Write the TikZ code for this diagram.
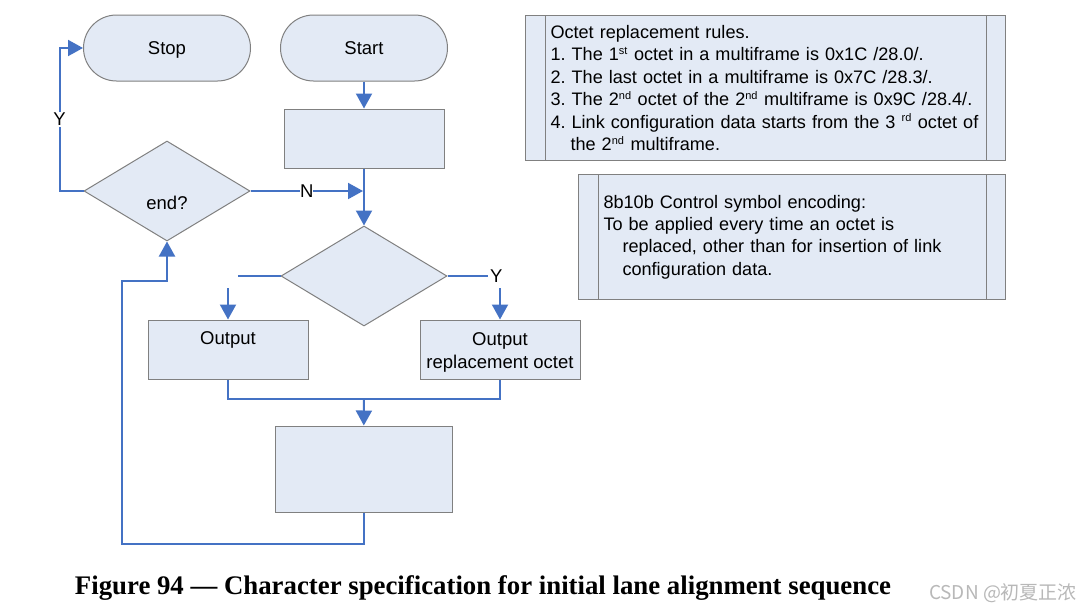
\documentclass[tikz,border=0pt]{standalone}
\usepackage{fontspec}
\setmainfont{Liberation Sans}
\newfontfamily\capfont{Liberation Serif}
\newfontfamily\cjkfont{Noto Sans CJK SC}
\usepackage{tikz}
\usetikzlibrary{positioning, arrows.meta, shapes.geometric}
\frenchspacing

\definecolor{boxfill}{RGB}{227,234,245}
\definecolor{flowblue}{RGB}{68,114,196}
\definecolor{edgegray}{RGB}{128,128,128}

\tikzset{
  terminal/.style={draw=edgegray, fill=boxfill, line width=1pt, rounded corners=33pt, minimum width=167pt, minimum height=66pt, text height=13.2pt, text depth=0pt},
  procbox/.style={draw=edgegray, fill=boxfill, line width=1pt, minimum width=160pt, minimum height=59pt, align=center, inner sep=2pt, text height=41pt},
  decision/.style={draw=edgegray, fill=boxfill, line width=1pt, diamond, minimum width=166pt, minimum height=100pt, inner sep=0pt},
  notebox/.style={draw=edgegray, fill=boxfill, line width=1pt, align=left, inner xsep=25pt, inner ysep=0pt, anchor=north west, font=\fontsize{18.1}{22.4}\selectfont},
  flow/.style={flowblue, line width=2pt},
  arr/.style={flow, -{Triangle[length=15pt,width=16pt]}},
  lbl/.style={fill=white, text=black, inner sep=1pt}
}
\newcommand{\sups}[1]{\textsuperscript{\fontsize{11}{11}\selectfont #1}}

\begin{document}
\begin{tikzpicture}[x=1pt, y=-1pt, font=\fontsize{18.5}{22.4}\selectfont]
                \fill[white] (0,0) rectangle (1089,611);
                \useasboundingbox (0,0) rectangle (1089,611);

                % flow chart
                \node [terminal] (stop) at (167,48) {Stop};
                \node [terminal] (start) at (364,48) {Start};
                \node [procbox, below=27pt of start] (init) {};
                \node [decision, label={[yshift=-12pt]center:end?}] (endq) at (167,191) {};
                \node [decision] (check) at (364,276) {};
                \node [procbox] (out) at (228,349.5) {Output\\\strut};
                \node [procbox] (outrep) at (500,349.5) {Output\\replacement octet};
                \node [procbox, minimum width=177pt, minimum height=86pt] (next) at (363.5,469) {};

                \coordinate (njoin) at (363,191);
                \coordinate (lgap) at (238,276);
                \coordinate (ltop) at (228,288);
                \coordinate (rgap) at (488,276);
                \coordinate (rtop) at (500,288);
                \coordinate (merge) at (364,399);

                \draw[arr] (start) -- (init);
                \draw[arr] (init) -- (check);
                \draw[arr] (endq.east) -- node[lbl, inner sep=0pt] {N} (njoin);
                \draw[arr] (endq.west) -- ++(-24,0) |- node[lbl, pos=0.25] {Y} (stop.west);
                \draw[flow] (check.west) -- (lgap);
                \draw[arr] (ltop) -- (out);
                \draw[flow] (check.east) -- (rgap) node[right, text=black, inner sep=1pt] {Y};
                \draw[arr] (rtop) -- (outrep);
                \draw[flow] (out.south) |- (merge) -| (outrep.south);
                \draw[arr] (merge) -- (next);
                \draw[arr] (next.south) -- ++(0,31) -| ++(-242,-263) -| (endq.south);

                % notes
                \node [notebox, text width=430pt, minimum height=145pt] (rules) at (525,15)
                  {Octet replacement rules.\\
                   1. The 1\sups{st} octet in a multiframe is 0x1C /28.0/.\\
                   2. The last octet in a multiframe is 0x7C /28.3/.\\
                   \mbox{3. The 2\sups{nd} octet of the 2\sups{nd} multiframe is 0x9C /28.4/.}\\
                   \mbox{4. Link configuration data starts from the 3 \sups{rd} octet of}\\
                   \hspace*{20pt}the 2\sups{nd} multiframe.};
                \node [notebox, text width=377pt, minimum height=125pt] (enc) at (578,174)
                  {8b10b Control symbol encoding:\\
                   To be applied every time an octet is\\
                   \hspace*{19pt}replaced, other than for insertion of link\\
                   \hspace*{19pt}configuration data.};
                \foreach \n in {rules, enc} {
                  \draw[edgegray, line width=1pt] ([xshift=20pt]\n.north west) -- ([xshift=20pt]\n.south west);
                  \draw[edgegray, line width=1pt] ([xshift=-20pt]\n.north east) -- ([xshift=-20pt]\n.south east);
                }

                % caption
                \node [font=\capfont\bfseries\fontsize{26.8}{30}\selectfont] (caption) at (483,588)
                  {Figure 94 — Character specification for initial lane alignment sequence};
                \node [text=black!28, font=\cjkfont\fontsize{19}{22}\selectfont] (mark) at (1003,593) {CSDN @初夏正浓};
\end{tikzpicture}
\end{document}
